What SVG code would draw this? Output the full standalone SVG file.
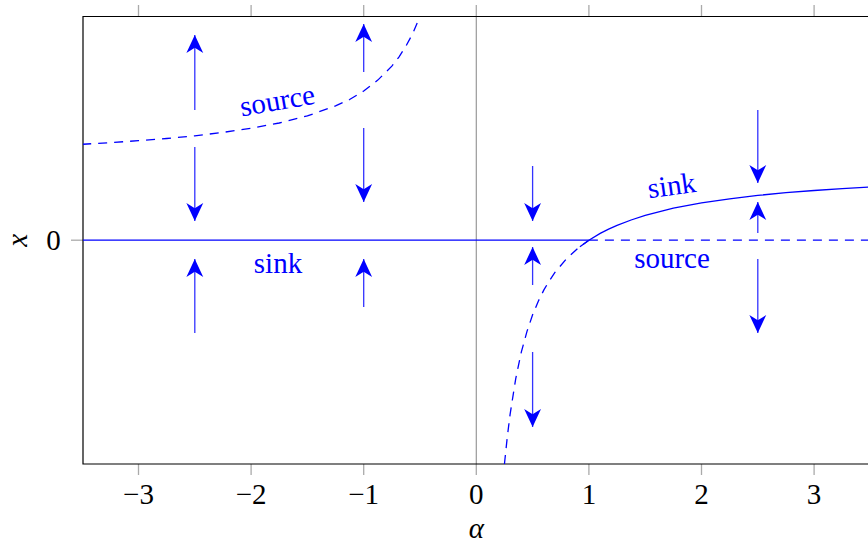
<svg xmlns="http://www.w3.org/2000/svg" width="868" height="545" viewBox="0 0 868 545">
<style>
text{font-family:'Liberation Serif','DejaVu Serif',serif;font-size:29px;}
.tl{fill:#000;text-anchor:middle;}
.lbl{fill:#0000ff;text-anchor:middle;}
.tick{stroke:#aaaaaa;stroke-width:1.3;fill:none;}
.curve{stroke:#0000ff;stroke-width:1.3;fill:none;}
.dash{stroke-dasharray:9 7;}
.arr{stroke:#3333ff;stroke-width:1.3;fill:none;marker-end:url(#head);}
</style>
<defs>
<marker id="head" markerUnits="userSpaceOnUse" markerWidth="20" markerHeight="20" viewBox="-18 -9 19 18" refX="0" refY="0" orient="auto">
<path d="M0,0 L-17,-8 L-12,0 L-17,8 Z" fill="#0000ff"/>
</marker>
<clipPath id="plot"><rect x="83" y="16.5" width="790" height="447.5"/></clipPath>
</defs>
<rect width="868" height="545" fill="#fff"/>

<g id="axes">
<line x1="476.3" y1="16.5" x2="476.3" y2="464" stroke="#999" stroke-width="1.2"/>
<g class="tick">
<line x1="138.5" y1="5" x2="138.5" y2="16.5"/><line x1="251.1" y1="5" x2="251.1" y2="16.5"/><line x1="363.7" y1="5" x2="363.7" y2="16.5"/><line x1="476.3" y1="5" x2="476.3" y2="16.5"/><line x1="588.9" y1="5" x2="588.9" y2="16.5"/><line x1="701.5" y1="5" x2="701.5" y2="16.5"/><line x1="814.1" y1="5" x2="814.1" y2="16.5"/>
<line x1="138.5" y1="464" x2="138.5" y2="475"/><line x1="251.1" y1="464" x2="251.1" y2="475"/><line x1="363.7" y1="464" x2="363.7" y2="475"/><line x1="476.3" y1="464" x2="476.3" y2="475"/><line x1="588.9" y1="464" x2="588.9" y2="475"/><line x1="701.5" y1="464" x2="701.5" y2="475"/><line x1="814.1" y1="464" x2="814.1" y2="475"/>
<line x1="71" y1="240.2" x2="83" y2="240.2"/>
</g>
<path d="M870,16.5 H83 V464 H870" fill="none" stroke="#000" stroke-width="1.2"/>
<text class="tl" x="138.5" y="504">−3</text>
<text class="tl" x="251.1" y="504">−2</text>
<text class="tl" x="363.7" y="504">−1</text>
<text class="tl" x="476.3" y="504">0</text>
<text class="tl" x="588.9" y="504">1</text>
<text class="tl" x="701.5" y="504">2</text>
<text class="tl" x="814.1" y="504">3</text>
<text class="tl" x="53.5" y="250">0</text>
<text class="tl" x="476.3" y="538" font-style="italic">α</text>
<text class="tl" transform="translate(27,240.2) rotate(-90)" font-style="italic">x</text>
</g>

<g id="curves" clip-path="url(#plot)">
<line class="curve" x1="83" y1="240.2" x2="588.9" y2="240.2"/>
<line class="curve dash" x1="588.9" y1="240.2" x2="870" y2="240.2"/>
<polyline class="curve dash" points="82.2,144.3 110.35,142.6 138.5,140.7 166.65,138.5 194.8,135.8 223,132.4 251.1,128.3 279.25,123 307.4,115.9 335.55,105.9 349.6,99.5 363.7,91 377.8,80.1 391.85,66.1 398.9,57.1 405.9,46.2 413,33 420,16.4"/>
<polyline class="curve dash" points="504.45,464 507.3,436.9 510.1,414.3 515.7,378.8 521.3,352.1 527,331.4 532.6,314.8 538.2,301.4 543.9,289.9 549.5,280.5 555.1,272.2 566.4,258.9 577.6,248.5 588.9,240.2"/>
<polyline class="curve" points="579.9,246.7 588.9,240.2 600.2,233.4 608.6,229.1 617.05,225.3 631.1,220 645.2,215.3 673.35,208.2 701.5,202.9 729.65,198.8 757.8,195.4 785.95,192.7 814.1,190.5 842.25,188.6 870.4,186.9"/>
</g>

<g id="arrows">
<line class="arr" x1="194.8" y1="110" x2="194.8" y2="35"/>
<line class="arr" x1="194.8" y1="147" x2="194.8" y2="221"/>
<line class="arr" x1="194.8" y1="333" x2="194.8" y2="259"/>
<line class="arr" x1="363.7" y1="72" x2="363.7" y2="24"/>
<line class="arr" x1="363.7" y1="128" x2="363.7" y2="202"/>
<line class="arr" x1="363.7" y1="307" x2="363.7" y2="259"/>
<line class="arr" x1="532.6" y1="166" x2="532.6" y2="221"/>
<line class="arr" x1="532.6" y1="285" x2="532.6" y2="247"/>
<line class="arr" x1="532.6" y1="352" x2="532.6" y2="427"/>
<line class="arr" x1="757.8" y1="110" x2="757.8" y2="183"/>
<line class="arr" x1="757.8" y1="233" x2="757.8" y2="202"/>
<line class="arr" x1="757.8" y1="259" x2="757.8" y2="333"/>
</g>

<g id="labels">
<text class="lbl" transform="translate(279,110) rotate(-10)">source</text>
<text class="lbl" x="278" y="273">sink</text>
<text class="lbl" transform="translate(673,195) rotate(-8)">sink</text>
<text class="lbl" x="672" y="268">source</text>
</g>
</svg>
